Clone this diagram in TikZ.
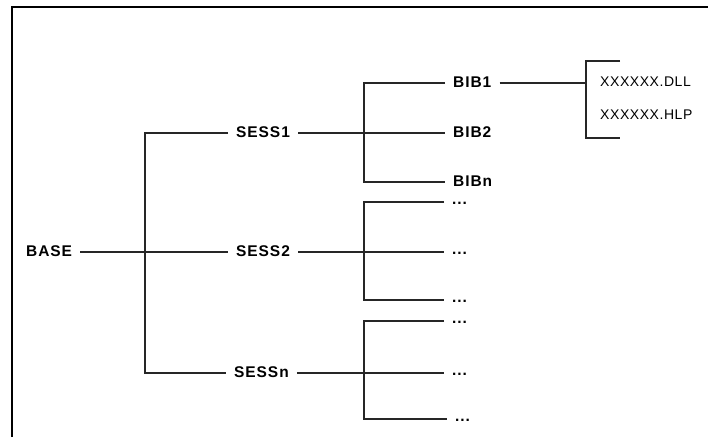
\documentclass[tikz,border=0pt]{standalone}
\usepackage{fontspec}
\setmainfont{Liberation Sans}
\newfontfamily\lblfont[LetterSpace=6]{Liberation Sans}
\newfontfamily\filefont[LetterSpace=4]{Liberation Sans}
\begin{document}
\begin{tikzpicture}[x=1pt,y=-1pt,
  lbl/.style={font=\lblfont\fontsize{15.5}{15}\selectfont\bfseries, inner xsep=8pt, inner ysep=0pt, text height=8pt, text depth=0pt, anchor=west},
  dots/.style={font=\lblfont\fontsize{15.5}{15}\selectfont\bfseries, inner xsep=8pt, inner ysep=0pt, text height=4pt, text depth=0pt, anchor=west},
  file/.style={font=\filefont\fontsize{14}{14}\selectfont, inner sep=0pt, anchor=west},
  conn/.style={draw=black!85, line width=1.1pt},
  frame/.style={draw=black, line width=2pt}]
\useasboundingbox (0,0) rectangle (708,437);
\draw[frame] (12,437) -- (12,7) -- (708,7);

% level 0
\node[lbl] (base) at (18,252) {BASE};
% level 1
\node[lbl] (s1) at (228,133) {SESS1};
\node[lbl] (s2) at (228,252) {SESS2};
\node[lbl] (sn) at (226,373) {SESSn};
% level 2 under SESS1
\node[lbl] (b1) at (445,83) {BIB1};
\node[lbl] (b2) at (445,133) {BIB2};
\node[lbl] (bn) at (445,182) {BIBn};
% level 2 under SESS2
\node[dots] (d21) at (444,202) {...};
\node[dots] (d22) at (444,252) {...};
\node[dots] (d23) at (444,300) {...};
% level 2 under SESSn
\node[dots] (dn1) at (444,321) {...};
\node[dots] (dn2) at (444,373) {...};
\node[dots] (dn3) at (447,419) {...};
% files
\node[file] (dll) at (600,82) {XXXXXX.DLL};
\node[file] (hlp) at (600,115) {XXXXXX.HLP};

\coordinate (j0) at (145,252);
\coordinate (j1) at (364,133);
\coordinate (j2) at (364,252);
\coordinate (j3) at (364,373);
\coordinate (jf) at (586,83);
\coordinate (ft) at (620,61);
\coordinate (fb) at (620,138);

\draw[conn] (base.east) -- (s2.west);
\draw[conn] (s1.west) -| (j0) |- (sn.west);

\draw[conn] (s1.east) -- (b2.west);
\draw[conn] (b1.west) -| (j1) |- (bn.west);

\draw[conn] (s2.east) -- (d22.west);
\draw[conn] (d21.west) -| (j2) |- (d23.west);

\draw[conn] (sn.east) -- (dn2.west);
\draw[conn] (dn1.west) -| (j3) |- (dn3.west);

\draw[conn] (b1.east) -- (jf);
\draw[conn] (ft) -| (jf) |- (fb);
\end{tikzpicture}
\end{document}
